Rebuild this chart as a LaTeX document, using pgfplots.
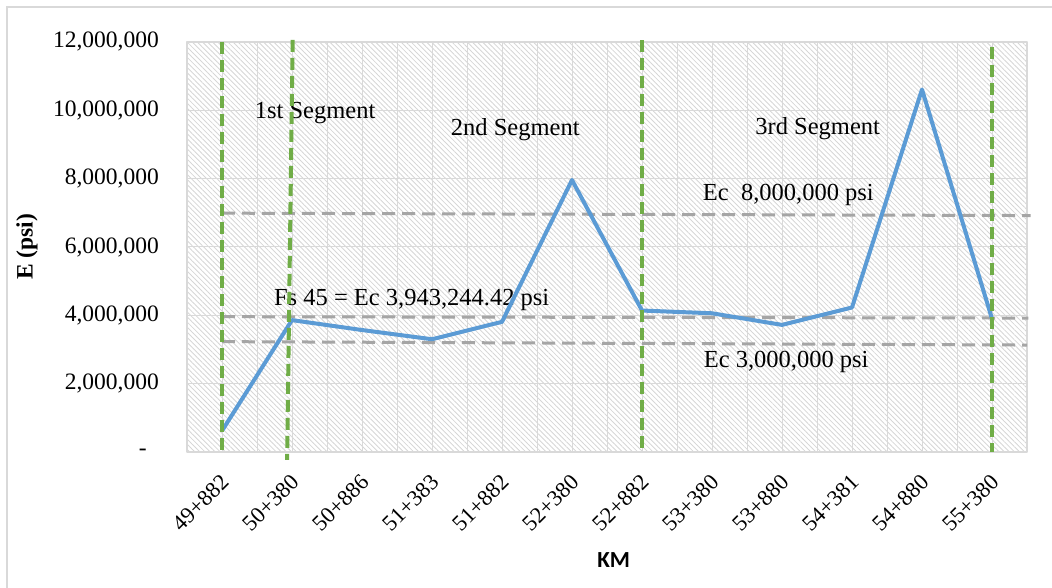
\documentclass[border=0pt]{standalone}
\usepackage{fontspec}
\setmainfont{Liberation Serif}
\newfontfamily\calibri{Carlito}
\usepackage{pgfplots}
\pgfplotsset{compat=1.18}
\usetikzlibrary{patterns.meta}

\definecolor{eblue}{HTML}{5B9BD5}
\definecolor{egreen}{HTML}{70AD47}
\definecolor{egray}{HTML}{A5A5A5}
\definecolor{egrid}{HTML}{D9D9D9}
\definecolor{ehatch}{HTML}{D6D6D6}

\newcommand{\tck}{\fontsize{23.5}{28}\selectfont}
\newcommand{\xtck}{\fontsize{22.5}{27}\selectfont}
\newcommand{\lbl}{\fontsize{24.5}{29}\selectfont}

\begin{document}
\begin{tikzpicture}[x=1pt,y=1pt]
\useasboundingbox (0,0) rectangle (1052,588);
\draw[egrid, line width=1.5pt] (7,0) -- (7,581) -- (1052,581);
\begin{axis}[
  at={(187pt,136pt)}, anchor=south west,
  scale only axis, width=840pt, height=410pt,
  xmin=-0.5, xmax=11.5, ymin=0, ymax=12e6,
  scaled y ticks=false,
  xtick={0,...,11},
  xticklabels={49+882,50+380,50+886,51+383,51+882,52+380,52+882,53+380,53+880,54+381,54+880,55+380},
  minor xtick={-0.5,0.5,...,11.5},
  ytick={0,2e6,4e6,6e6,8e6,10e6,12e6},
  yticklabels={{-\hspace*{12pt}},{2,000,000},{4,000,000},{6,000,000},{8,000,000},{10,000,000},{12,000,000}},
  major tick length=0pt, minor tick length=0pt,
  xmajorgrids, xminorgrids, ymajorgrids,
  grid style={egrid, line width=1pt},
  minor grid style={egrid, line width=1pt},
  axis line style={egrid, line width=1.2pt},
  axis background/.style={pattern={Lines[angle=-45,distance=3.6pt,line width=0.85pt]}, pattern color=ehatch},
  ticklabel style={font=\tck, text=black},
  yticklabel style={anchor=east, inner sep=0pt, xshift=-28pt},
  xticklabel style={font=\xtck, anchor=north east, inner sep=0pt, xshift=-2pt, yshift=-21pt, rotate=45},
  xlabel={KM},
  xlabel style={font=\calibri\bfseries\fontsize{23}{28}\selectfont, at={(axis description cs:0.508,-0.2634)}, anchor=center},
  ylabel={E (psi)},
  ylabel style={font=\bfseries\tck, at={(axis description cs:-0.1905,0.5)}, anchor=center},
  clip=false,
  line join=round,
]
% annotations
\addplot[draw=none, forget plot] coordinates {(1.33,9.92e6)} node[font=\lbl, inner sep=0pt] {1st Segment};
\addplot[draw=none, forget plot] coordinates {(4.19,9.42e6)} node[font=\lbl, inner sep=0pt] {2nd Segment};
\addplot[draw=none, forget plot] coordinates {(8.51,9.45e6)} node[font=\lbl, inner sep=0pt] {3rd Segment};
\addplot[draw=none, forget plot] coordinates {(8.09,7.52e6)} node[font=\lbl, inner sep=0pt] {Ec\ \ 8,000,000 psi};
\addplot[draw=none, forget plot] coordinates {(2.71,4.45e6)} node[font=\lbl, inner sep=0pt] {Fs 45 = Ec 3,943,244.42 psi};
\addplot[draw=none, forget plot] coordinates {(8.06,2.63e6)} node[font=\lbl, inner sep=0pt] {Ec 3,000,000 psi};

% reference levels
\addplot[egray, line width=3pt, dash pattern=on 13pt off 7pt] coordinates {(0,6.99e6) (11.55,6.92e6)};
\addplot[egray, line width=3pt, dash pattern=on 13pt off 7pt] coordinates {(0,3.96e6) (11.52,3.92e6)};
\addplot[egray, line width=3pt, dash pattern=on 13pt off 7pt] coordinates {(0,3.23e6) (11.5,3.13e6)};

% modulus along the chainage
\addplot[eblue, line width=4pt] coordinates {
  (0,0.62e6) (1,3.86e6) (2,3.57e6) (3,3.30e6) (4,3.81e6) (5,7.96e6)
  (6,4.14e6) (7,4.06e6) (8,3.72e6) (9,4.23e6) (10,10.61e6) (11,3.90e6)};

% segment boundaries
\addplot[egreen, line width=4pt, dash pattern=on 12pt off 6pt] coordinates {(0,12e6) (0,0)};
\addplot[egreen, line width=4pt, dash pattern=on 12pt off 6pt] coordinates {(1.01,12.06e6) (0.93,-0.23e6)};
\addplot[egreen, line width=4pt, dash pattern=on 12pt off 6pt] coordinates {(6,12.05e6) (6,0)};
\addplot[egreen, line width=4pt, dash pattern=on 12pt off 6pt] coordinates {(11,11.85e6) (11,0)};
\end{axis}
\end{tikzpicture}
\end{document}
